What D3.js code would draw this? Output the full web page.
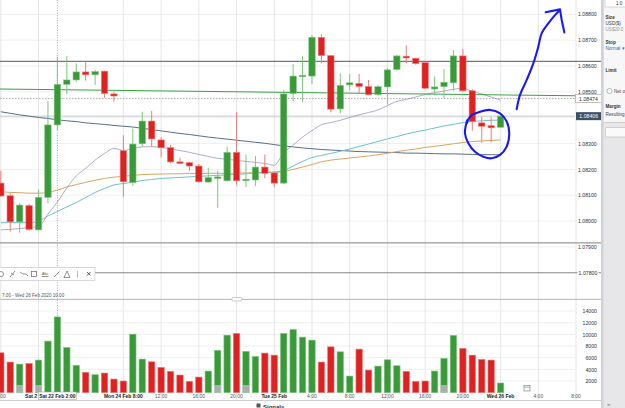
<!DOCTYPE html>
<meta charset="utf-8">
<script src="https://d3js.org/d3.v7.min.js"></script>
<style>
  body { margin: 0; background: #fff; }
  svg { display: block; font-family: "Liberation Sans", Arial, sans-serif; }
</style>
<body>
<div id="chart"></div>
<script>

// hourly EUR/USD candles (index 0 .. 53)
var opens  = [1.08147,1.08098,1.07997,1.08060,1.07966,1.08092,1.08372,1.08529,1.08546,1.08577,
              1.08566,1.08580,1.08492,1.08272,1.08149,1.08299,1.08387,1.08314,1.08284,1.08229,
              1.08226,1.08213,1.08151,1.08167,1.08156,1.08266,1.08156,1.08159,1.08209,1.08186,
              1.08147,1.08494,1.08559,1.08561,1.08711,1.08640,1.08434,1.08527,1.08533,1.08520,
              1.08489,1.08519,1.08587,1.08638,1.08630,1.08613,1.08511,1.08520,1.08535,1.08639,
              1.08504,1.08380,1.08369,1.08363];
var highs  = [1.08195,1.08108,1.08069,1.08066,1.08123,1.08465,1.08636,1.08639,1.08610,1.08617,
              1.08585,1.08582,1.08501,1.08332,1.08357,1.08423,1.08426,1.08324,1.08294,1.08245,
              1.08230,1.08221,1.08207,1.08195,1.08288,1.08421,1.08258,1.08252,1.08258,1.08191,
              1.08507,1.08608,1.08639,1.08720,1.08723,1.08643,1.08572,1.08569,1.08569,1.08546,
              1.08527,1.08593,1.08643,1.08680,1.08632,1.08614,1.08559,1.08588,1.08662,1.08666,
              1.08510,1.08404,1.08402,1.08410];
var lows   = [1.08094,1.07959,1.07955,1.07963,1.07963,1.08069,1.08352,1.08491,1.08539,1.08543,
              1.08527,1.08477,1.08462,1.08094,1.08136,1.08288,1.08288,1.08247,1.08224,1.08221,
              1.08194,1.08149,1.08149,1.08052,1.08152,1.08140,1.08131,1.08136,1.08166,1.08131,
              1.08142,1.08465,1.08460,1.08530,1.08610,1.08421,1.08417,1.08506,1.08494,1.08487,
              1.08485,1.08452,1.08582,1.08610,1.08605,1.08511,1.08488,1.08475,1.08504,1.08501,
              1.08350,1.08303,1.08305,1.08363];
var closes = [1.08097,1.07997,1.08062,1.07968,1.08092,1.08372,1.08529,1.08546,1.08577,1.08566,
              1.08578,1.08494,1.08484,1.08152,1.08298,1.08387,1.08318,1.08284,1.08229,1.08224,
              1.08213,1.08152,1.08168,1.08171,1.08266,1.08156,1.08162,1.08209,1.08185,1.08147,
              1.08492,1.08561,1.08564,1.08711,1.08640,1.08433,1.08525,1.08535,1.08521,1.08489,
              1.08520,1.08585,1.08639,1.08631,1.08609,1.08514,1.08519,1.08537,1.08639,1.08504,
              1.08385,1.08367,1.08361,1.08406];
var volumes = [6840,5250,4900,5020,5590,8840,12990,7760,4680,3490,
               3080,3370,2340,2000,10030,5760,5300,4340,3660,3030,
               1950,2680,3710,7250,9860,10150,7080,6200,6790,6440,
               10150,10830,9520,9010,5250,7860,7010,2850,7470,3880,
               4560,5640,4620,3660,1950,2000,3710,5880,9810,7590,
               6440,5710,5590,1660];

// moving averages
var maFast = [1.07966,1.07968,1.07971,1.07975,1.07979,1.08027,1.08074,1.08128,1.08175,1.08204,
              1.08236,1.08262,1.08281,1.08273,1.08281,1.08287,1.08288,1.08285,1.08279,1.08273,
              1.08266,1.08258,1.08250,1.08243,1.08239,1.08235,1.08231,1.08227,1.08223,1.08216,
              1.08265,1.08294,1.08325,1.08350,1.08373,1.08381,1.08390,1.08401,1.08411,1.08420,
              1.08430,1.08447,1.08463,1.08471,1.08480,1.08490,1.08497,1.08503,1.08510,1.08514,
              1.08502,1.08492,1.08480,1.08468];
var maMid  = [1.07994,1.07994,1.07994,1.07994,1.08000,1.08020,1.08037,1.08055,1.08072,1.08091,
              1.08111,1.08126,1.08140,1.08145,1.08151,1.08157,1.08161,1.08165,1.08167,1.08169,
              1.08171,1.08173,1.08175,1.08177,1.08179,1.08181,1.08183,1.08186,1.08189,1.08190,
              1.08196,1.08213,1.08231,1.08246,1.08254,1.08262,1.08270,1.08279,1.08289,1.08298,
              1.08308,1.08318,1.08327,1.08337,1.08345,1.08352,1.08360,1.08368,1.08374,1.08381,
              1.08385,1.08388,1.08390,1.08391];
var maSlow = [1.08114,1.08111,1.08110,1.08108,1.08108,1.08111,1.08120,1.08132,1.08141,1.08150,
              1.08158,1.08165,1.08170,1.08173,1.08177,1.08180,1.08181,1.08182,1.08183,1.08183,
              1.08184,1.08184,1.08185,1.08185,1.08185,1.08186,1.08186,1.08187,1.08187,1.08188,
              1.08192,1.08200,1.08209,1.08219,1.08229,1.08236,1.08240,1.08244,1.08248,1.08252,
              1.08257,1.08262,1.08269,1.08274,1.08279,1.08285,1.08289,1.08294,1.08299,1.08304,
              1.08308,1.08310,1.08312,1.08314];
var maLong = [1.08423,1.08417,1.08411,1.08406,1.08401,1.08397,1.08392,1.08388,1.08385,1.08380,
              1.08377,1.08374,1.08370,1.08367,1.08364,1.08359,1.08354,1.08349,1.08344,1.08339,
              1.08335,1.08330,1.08325,1.08321,1.08317,1.08313,1.08309,1.08305,1.08301,1.08296,
              1.08291,1.08287,1.08283,1.08280,1.08277,1.08275,1.08273,1.08271,1.08269,1.08268,
              1.08267,1.08266,1.08265,1.08263,1.08263,1.08262,1.08261,1.08260,1.08260,1.08259,
              1.08258,1.08257,1.08257,1.08256];

// green trend line [index, price]
var trendLine = [[-0.1, 1.08511], [60.9, 1.08485]];
// horizontal levels
var levelDark = 1.08618, levelBid = 1.08474, levelLast = 1.08406, levelLow1 = 1.07916, levelLow2 = 1.07800;

var priceTicks = [1.079,1.080,1.081,1.082,1.083,1.085,1.086,1.087,1.088];
var priceGrid = [1.079,1.080,1.081,1.082,1.083,1.084,1.085,1.086,1.087,1.088];
var volTicks = [2000,4000,6000,8000,10000,12000,14000];
var gridIdx = [0,4,13,17,21,25,29,33,37,41,45,49,53,57,61];
var timeLabels = [[0,"0:00",false],[13,"Mon 24 Feb 8:00",true],[17,"12:00",false],
                  [21,"16:00",false],[25,"20:00",false],[29,"Tue 25 Feb",true],[33,"4:00",false],
                  [37,"8:00",false],[41,"12:00",false],[45,"16:00",false],[49,"20:00",false],
                  [53,"Wed 26 Feb",true],[57,"4:00",false],[61,"8:00",false]];
var eventBars = [2, 4, 23, 26, 47];
var crossIdx = 6;

// hand drawn blue marks, [index, price]
var blueLoop = [[49.41,1.08378],[49.76,1.08404],[50.82,1.08423],[51.88,1.08430],[52.94,1.08417],
                [53.65,1.08385],[53.92,1.08340],[53.65,1.08288],[52.94,1.08256],[52.06,1.08243],
                [51.17,1.08249],[50.29,1.08268],[49.58,1.08301],[49.22,1.08340],[49.45,1.08390]];
var blueArrow = [[54.71,1.08433],[55.06,1.08488],[55.77,1.08546],[56.47,1.08610],[57.0,1.08675],
                 [57.36,1.08727],[58.06,1.08765],[58.77,1.08797],[59.3,1.08817]];
var blueHead = [[57.78,1.08808],[59.3,1.08819],[59.48,1.08778],[59.76,1.08730]];

var W = 625, H = 408, plotR = 575, panelX = 601;

var svg = d3.select("#chart").append("svg").attr("width", W).attr("height", H);
svg.append("rect").attr("width", W).attr("height", H).attr("fill", "#fff");

var x = d3.scaleLinear().domain([0, 61]).range([0.8, 576.03]);
var y = d3.scaleLinear().domain([1.078, 1.088]).range([272.8, 14.3]);
var yv = d3.scaleLinear().domain([0, 14000]).range([392.7, 311]);

var green = "#3a9a3a", greenEdge = "#7cc67c", red = "#de2121", redEdge = "#f07a7a";

// grid
svg.append("g").selectAll("line").data(priceGrid).enter().append("line")
  .attr("x1", 0).attr("x2", plotR).attr("y1", function(d){ return y(d); }).attr("y2", function(d){ return y(d); })
  .attr("stroke", "#efefef");
svg.append("g").selectAll("line").data(volTicks).enter().append("line")
  .attr("x1", 0).attr("x2", plotR).attr("y1", function(d){ return yv(d); }).attr("y2", function(d){ return yv(d); })
  .attr("stroke", "#efefef");
svg.append("g").selectAll("line").data(gridIdx).enter().append("line")
  .attr("x1", function(d){ return x(d); }).attr("x2", function(d){ return x(d); })
  .attr("y1", 0).attr("y2", 400).attr("stroke", "#e6e6e6");

// crosshair
svg.append("line").attr("x1", x(crossIdx)).attr("x2", x(crossIdx)).attr("y1", 0).attr("y2", 400)
  .attr("stroke", "#aaa").attr("stroke-dasharray", "1,1.5");

// horizontal levels
svg.append("line").attr("x1", 0).attr("x2", panelX).attr("y1", y(levelDark)).attr("y2", y(levelDark))
  .attr("stroke", "#777").attr("stroke-width", 1.1);
svg.append("line").attr("x1", 0).attr("x2", plotR).attr("y1", y(levelBid)).attr("y2", y(levelBid))
  .attr("stroke", "#aaa").attr("stroke-dasharray", "1.5,1.5");
svg.append("line").attr("x1", 0).attr("x2", plotR).attr("y1", y(levelLast)).attr("y2", y(levelLast))
  .attr("stroke", "#c4c8cc");
svg.append("line").attr("x1", 0).attr("x2", panelX).attr("y1", y(levelLow1)).attr("y2", y(levelLow1))
  .attr("stroke", "#999").attr("stroke-width", 1.2);
svg.append("line").attr("x1", 0).attr("x2", panelX).attr("y1", y(levelLow2)).attr("y2", y(levelLow2))
  .attr("stroke", "#888").attr("stroke-width", 1.1);

// moving averages
var maLine = d3.line().x(function(d, i){ return x(i); }).y(function(d){ return y(d); }).curve(d3.curveMonotoneX);
svg.append("path").datum(maLong).attr("d", maLine).attr("fill", "none").attr("stroke", "#5a6f80").attr("stroke-width", 1);
svg.append("path").datum(maSlow).attr("d", maLine).attr("fill", "none").attr("stroke", "#d8a660").attr("stroke-width", 1);
svg.append("path").datum(maMid).attr("d", maLine).attr("fill", "none").attr("stroke", "#6cc3c6").attr("stroke-width", 1);
svg.append("path").datum(maFast).attr("d", maLine).attr("fill", "none").attr("stroke", "#a194bd").attr("stroke-width", 0.8);
svg.append("path").datum(trendLine)
  .attr("d", d3.line().x(function(d){ return x(d[0]); }).y(function(d){ return y(d[1]); }))
  .attr("fill", "none").attr("stroke", "#3aa046").attr("stroke-width", 1.1);

// candles
var bw = 6.4;
var candles = svg.append("g").selectAll("g").data(opens).enter().append("g");
candles.append("line")
  .attr("x1", function(d, i){ return x(i); }).attr("x2", function(d, i){ return x(i); })
  .attr("y1", function(d, i){ return y(highs[i]); }).attr("y2", function(d, i){ return y(lows[i]); })
  .attr("stroke", function(d, i){ return closes[i] >= opens[i] ? greenEdge : redEdge; });
candles.append("rect")
  .attr("x", function(d, i){ return x(i) - bw / 2; })
  .attr("width", bw)
  .attr("y", function(d, i){ return y(Math.max(opens[i], closes[i])); })
  .attr("height", function(d, i){ return Math.max(1.5, Math.abs(y(opens[i]) - y(closes[i]))); })
  .attr("fill", function(d, i){ return closes[i] >= opens[i] ? green : red; })
  .attr("stroke", function(d, i){ return closes[i] >= opens[i] ? greenEdge : redEdge; })
  .attr("stroke-width", 0.6);

// volume
svg.append("line").attr("x1", 0).attr("x2", panelX).attr("y1", 299.3).attr("y2", 299.3).attr("stroke", "#c2c2c2").attr("stroke-width", 1.2);
svg.append("rect").attr("x", 232).attr("y", 297.5).attr("width", 10).attr("height", 3.5).attr("rx", 1.5)
  .attr("fill", "#fff").attr("stroke", "#aaa").attr("stroke-width", 0.6);
svg.append("text").attr("x", 2).attr("y", 296.5).attr("font-size", 4.6).attr("fill", "#555")
  .text("7:00 - Wed 26 Feb 2020 10:00");

svg.append("g").selectAll("rect").data(volumes).enter().append("rect")
  .attr("x", function(d, i){ return x(i) - bw / 2; })
  .attr("width", bw)
  .attr("y", function(d){ return yv(d); })
  .attr("height", function(d){ return yv(0) - yv(d); })
  .attr("fill", function(d, i){ return closes[i] >= opens[i] ? green : red; })
  .attr("stroke", function(d, i){ return closes[i] >= opens[i] ? greenEdge : redEdge; })
  .attr("stroke-width", 0.6);
svg.append("g").selectAll("rect").data(eventBars).enter().append("rect")
  .attr("x", function(d){ return x(d) - 3.3; }).attr("width", 6.6)
  .attr("y", yv(0) - 7).attr("height", 6.5)
  .attr("fill", "#a9b0a9").attr("stroke", "#c9cec9").attr("stroke-width", 0.6);
// calendar icon
svg.append("rect").attr("x", x(55.8) - 3).attr("y", 385.5).attr("width", 6).attr("height", 5.5)
  .attr("fill", "#fff").attr("stroke", "#888").attr("stroke-width", 0.7);
svg.append("line").attr("x1", x(55.8) - 3).attr("x2", x(55.8) + 3).attr("y1", 387.2).attr("y2", 387.2).attr("stroke", "#888").attr("stroke-width", 0.7);

// price axis
var pAxis = svg.append("g").attr("transform", "translate(578,0)")
  .call(d3.axisRight(y).tickValues(priceTicks).tickSize(0).tickPadding(0).tickFormat(d3.format(".5f")));
pAxis.select(".domain").remove();
pAxis.selectAll("text").attr("font-size", 5.2).attr("fill", "#333").attr("font-family", "'Liberation Sans', Arial, sans-serif");

// volume axis
var vAxis = svg.append("g").attr("transform", "translate(597,0)")
  .call(d3.axisRight(yv).tickValues(volTicks).tickSize(0).tickPadding(0).tickFormat(d3.format("d")));
vAxis.select(".domain").remove();
vAxis.selectAll("text").attr("text-anchor", "end").attr("font-size", 5.2).attr("fill", "#333")
  .attr("font-family", "'Liberation Sans', Arial, sans-serif");

// level labels on the axis
svg.append("rect").attr("x", 577.5).attr("y", y(levelLow2) - 3).attr("width", 21).attr("height", 6).attr("fill", "#fff");
svg.append("text").attr("x", 588).attr("y", y(levelLow2) + 1.8).attr("text-anchor", "middle")
  .attr("font-size", 5.2).attr("fill", "#333").text(d3.format(".5f")(levelLow2));
svg.append("rect").attr("x", 575.5).attr("y", y(levelBid) - 4).attr("width", 26).attr("height", 8)
  .attr("fill", "#fff").attr("stroke", "#9a9a9a").attr("stroke-width", 0.6);
svg.append("text").attr("x", 588.5).attr("y", y(levelBid) + 2).attr("text-anchor", "middle")
  .attr("font-size", 5.2).attr("fill", "#333").text(d3.format(".5f")(levelBid));
svg.append("rect").attr("x", 576).attr("y", y(levelLast) - 4).attr("width", 25.5).attr("height", 8)
  .attr("fill", "#3d5166");
svg.append("text").attr("x", 588.7).attr("y", y(levelLast) + 2).attr("text-anchor", "middle")
  .attr("font-size", 5.2).attr("fill", "#fff").text(d3.format(".5f")(levelLast));

// time labels
svg.append("g").selectAll("text").data(timeLabels).enter().append("text")
  .attr("x", function(d){ return x(d[0]); }).attr("y", 398)
  .attr("text-anchor", "middle").attr("font-size", 5)
  .attr("font-weight", function(d){ return d[2] ? "bold" : "normal"; })
  .attr("fill", function(d){ return d[2] ? "#222" : "#555"; })
  .text(function(d){ return d[1]; });
// weekend label, mostly hidden behind the crosshair label
svg.append("text").attr("x", x(4) - 1.5).attr("y", 398).attr("text-anchor", "end")
  .attr("font-size", 5).attr("font-weight", "bold").attr("fill", "#222").text("Sat 2");
svg.append("rect").attr("x", x(crossIdx) - 19).attr("y", 392).attr("width", 38).attr("height", 7.5)
  .attr("fill", "#fff").attr("stroke", "#aaa").attr("stroke-width", 0.6);
svg.append("text").attr("x", x(crossIdx)).attr("y", 397.8).attr("text-anchor", "middle")
  .attr("font-size", 5).attr("font-weight", "bold").attr("fill", "#222").text("Sat 22 Feb 2:00");

// bottom strip
svg.append("line").attr("x1", 0).attr("x2", panelX).attr("y1", 400.5).attr("y2", 400.5).attr("stroke", "#ccc");
svg.append("rect").attr("x", 0).attr("y", 401).attr("width", panelX).attr("height", 7).attr("fill", "#fff");
svg.append("rect").attr("x", 256.5).attr("y", 403.5).attr("width", 4).attr("height", 4).attr("fill", "#555");
svg.append("text").attr("x", 263).attr("y", 408.5).attr("font-size", 6).attr("font-weight", "bold").attr("fill", "#333").text("Signals");

// drawing toolbar
var tb = svg.append("g").attr("stroke", "#666").attr("fill", "none").attr("stroke-width", 0.7);
tb.append("rect").attr("x", -1).attr("y", 267.5).attr("width", 96).attr("height", 13).attr("fill", "#fff").attr("stroke", "#c8c8c8");
tb.append("circle").attr("cx", 1).attr("cy", 274).attr("r", 2.5);
tb.append("path").attr("d", "M10,277 L15,271 M11,273 l3,2");
tb.append("path").attr("d", "M20,272 l3,2 l3,0 l2,2");
tb.append("rect").attr("x", 31.5).attr("y", 271.5).attr("width", 5).attr("height", 5);
tb.append("text").attr("x", 42).attr("y", 275).attr("font-size", 3.6).attr("fill", "#555").attr("stroke", "none").text("Abc");
tb.append("line").attr("x1", 42).attr("x2", 48.5).attr("y1", 276.5).attr("y2", 276.5);
tb.append("line").attr("x1", 54).attr("x2", 59.5).attr("y1", 277).attr("y2", 271.5);
tb.append("path").attr("d", "M64,277.5 L67,271 L70,277.5 Z");
tb.append("line").attr("x1", 77.5).attr("x2", 77.5).attr("y1", 271).attr("y2", 277.5).attr("stroke", "#999");
tb.append("path").attr("d", "M87,272 l3.5,3.5 M90.5,272 l-3.5,3.5").attr("stroke", "#444").attr("stroke-width", 0.9);

// right side panel
svg.append("rect").attr("x", panelX).attr("y", 0).attr("width", W - panelX).attr("height", H).attr("fill", "#e7e7ea");
svg.append("rect").attr("x", panelX).attr("y", 0).attr("width", 2.5).attr("height", H).attr("fill", "#d2d2d6");
svg.append("rect").attr("x", 604).attr("y", 0).attr("width", 21).attr("height", 122).attr("fill", "#f7f7f8");
svg.append("rect").attr("x", 605).attr("y", -2).attr("width", 22).attr("height", 9).attr("fill", "#fff").attr("stroke", "#bbb").attr("stroke-width", 0.6);
var rp = [[616, 4.5, "1.0", "normal", "#333"], [605.5, 18.5, "Size", "bold", "#333"], [605.5, 24.5, "USD($)", "normal", "#444"],
          [605.5, 30.5, "US$20.0", "normal", "#999"], [605.5, 43.5, "Stop", "bold", "#333"], [605.5, 49.5, "Normal \u25BE", "normal", "#2a6db5"],
          [605.5, 71.5, "Limit", "bold", "#333"], [614, 92.5, "Net o", "normal", "#444"], [605.5, 108, "Margin", "bold", "#333"],
          [605.5, 116, "Resulting", "normal", "#444"]];
svg.append("g").selectAll("text").data(rp).enter().append("text")
  .attr("x", function(d){ return d[0]; }).attr("y", function(d){ return d[1]; })
  .attr("font-size", 4.6).attr("font-weight", function(d){ return d[3]; }).attr("fill", function(d){ return d[4]; })
  .text(function(d){ return d[2]; });
svg.append("circle").attr("cx", 609.5).attr("cy", 91).attr("r", 2.6).attr("fill", "#fff").attr("stroke", "#888").attr("stroke-width", 0.6);
svg.append("line").attr("x1", 604).attr("x2", W).attr("y1", 122.5).attr("y2", 122.5).attr("stroke", "#ccc");
svg.append("rect").attr("x", 605.5).attr("y", 127.5).attr("width", 22).attr("height", 9.5).attr("rx", 1)
  .attr("fill", "#fafafa").attr("stroke", "#bbb").attr("stroke-width", 0.6);
svg.append("text").attr("x", 607).attr("y", 406).attr("font-size", 6).attr("fill", "#777").text("\u00BB");

// blue hand drawn marks
var bl = d3.line().x(function(d){ return x(d[0]); }).y(function(d){ return y(d[1]); });
svg.append("path").datum(blueLoop).attr("d", bl.curve(d3.curveCatmullRom))
  .attr("fill", "none").attr("stroke", "#1a1aee").attr("stroke-width", 2.1).attr("stroke-linecap", "round");
svg.append("path").datum(blueArrow).attr("d", bl.curve(d3.curveCatmullRom))
  .attr("fill", "none").attr("stroke", "#1a1aee").attr("stroke-width", 2.1).attr("stroke-linecap", "round");
svg.append("path").datum(blueHead).attr("d", bl.curve(d3.curveLinear))
  .attr("fill", "none").attr("stroke", "#1a1aee").attr("stroke-width", 2.1).attr("stroke-linecap", "round").attr("stroke-linejoin", "round");

</script>
</body>
